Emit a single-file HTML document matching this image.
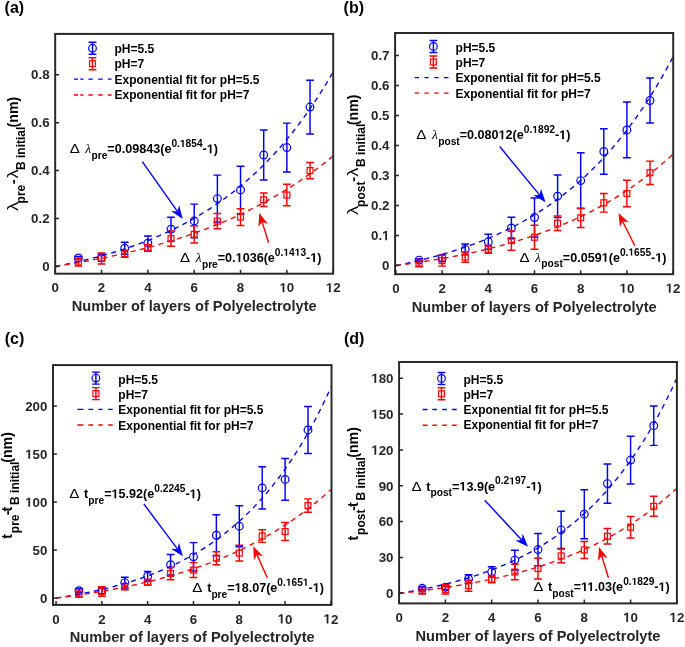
<!DOCTYPE html>
<html><head><meta charset="utf-8"><style>
html,body{margin:0;padding:0;background:#fff;}
svg{display:block;will-change:transform;}
.tk{font-family:'Liberation Sans', sans-serif;font-weight:bold;font-size:13.3px;fill:#262626;}
.xl{font-family:'Liberation Sans', sans-serif;font-weight:bold;font-size:14.6px;fill:#262626;}
.pl{font-family:'Liberation Sans', sans-serif;font-weight:bold;font-size:16px;fill:#000;}
.one{fill-opacity:0;}
.lg{font-family:'Liberation Sans', sans-serif;font-weight:bold;font-size:12px;fill:#000;}
</style></head><body>
<svg width="685" height="647" viewBox="0 0 685 647">
<rect width="685" height="647" fill="#fff"/>
<path d="M78.37 256.58V259.45M74.47 256.58H82.27M74.47 259.45H82.27" stroke="#0000ff" stroke-width="1.45" fill="none"/><circle cx="78.37" cy="258.01" r="3.85" stroke="#0000ff" stroke-width="1.2" fill="none"/>
<path d="M101.53 254.18V261.37M97.63 254.18H105.43M97.63 261.37H105.43" stroke="#0000ff" stroke-width="1.45" fill="none"/><circle cx="101.53" cy="257.77" r="3.85" stroke="#0000ff" stroke-width="1.2" fill="none"/>
<path d="M124.7 242.2V254.18M120.8 242.2H128.6M120.8 254.18H128.6" stroke="#0000ff" stroke-width="1.45" fill="none"/><circle cx="124.7" cy="248.19" r="3.85" stroke="#0000ff" stroke-width="1.2" fill="none"/>
<path d="M147.87 235.97V250.35M143.97 235.97H151.77M143.97 250.35H151.77" stroke="#0000ff" stroke-width="1.45" fill="none"/><circle cx="147.87" cy="243.16" r="3.85" stroke="#0000ff" stroke-width="1.2" fill="none"/>
<path d="M171.03 217.28V241.24M167.13 217.28H174.93M167.13 241.24H174.93" stroke="#0000ff" stroke-width="1.45" fill="none"/><circle cx="171.03" cy="229.26" r="3.85" stroke="#0000ff" stroke-width="1.2" fill="none"/>
<path d="M194.2 204.1V237.65M190.3 204.1H198.1M190.3 237.65H198.1" stroke="#0000ff" stroke-width="1.45" fill="none"/><circle cx="194.2" cy="220.88" r="3.85" stroke="#0000ff" stroke-width="1.2" fill="none"/>
<path d="M217.37 175.11V222.07M213.47 175.11H221.27M213.47 222.07H221.27" stroke="#0000ff" stroke-width="1.45" fill="none"/><circle cx="217.37" cy="198.59" r="3.85" stroke="#0000ff" stroke-width="1.2" fill="none"/>
<path d="M240.53 166.25V213.69M236.63 166.25H244.43M236.63 213.69H244.43" stroke="#0000ff" stroke-width="1.45" fill="none"/><circle cx="240.53" cy="189.97" r="3.85" stroke="#0000ff" stroke-width="1.2" fill="none"/>
<path d="M263.7 130.07V179.9M259.8 130.07H267.6M259.8 179.9H267.6" stroke="#0000ff" stroke-width="1.45" fill="none"/><circle cx="263.7" cy="154.99" r="3.85" stroke="#0000ff" stroke-width="1.2" fill="none"/>
<path d="M286.87 123.12V172M282.97 123.12H290.77M282.97 172H290.77" stroke="#0000ff" stroke-width="1.45" fill="none"/><circle cx="286.87" cy="147.56" r="3.85" stroke="#0000ff" stroke-width="1.2" fill="none"/>
<path d="M310.03 80.23V133.9M306.13 80.23H313.93M306.13 133.9H313.93" stroke="#0000ff" stroke-width="1.45" fill="none"/><circle cx="310.03" cy="107.07" r="3.85" stroke="#0000ff" stroke-width="1.2" fill="none"/>
<path d="M78.37 258.25V265.92M74.47 258.25H82.27M74.47 265.92H82.27" stroke="#ff0000" stroke-width="1.45" fill="none"/><rect x="75.42" y="259.14" width="5.9" height="5.9" stroke="#ff0000" stroke-width="1.2" fill="none"/>
<path d="M101.53 252.98V264M97.63 252.98H105.43M97.63 264H105.43" stroke="#ff0000" stroke-width="1.45" fill="none"/><rect x="98.58" y="255.54" width="5.9" height="5.9" stroke="#ff0000" stroke-width="1.2" fill="none"/>
<path d="M124.7 250.11V257.3M120.8 250.11H128.6M120.8 257.3H128.6" stroke="#ff0000" stroke-width="1.45" fill="none"/><rect x="121.75" y="250.75" width="5.9" height="5.9" stroke="#ff0000" stroke-width="1.2" fill="none"/>
<path d="M147.87 244.6V251.31M143.97 244.6H151.77M143.97 251.31H151.77" stroke="#ff0000" stroke-width="1.45" fill="none"/><rect x="144.92" y="245" width="5.9" height="5.9" stroke="#ff0000" stroke-width="1.2" fill="none"/>
<path d="M171.03 230.94V246.27M167.13 230.94H174.93M167.13 246.27H174.93" stroke="#ff0000" stroke-width="1.45" fill="none"/><rect x="168.08" y="235.66" width="5.9" height="5.9" stroke="#ff0000" stroke-width="1.2" fill="none"/>
<path d="M194.2 225.67V242.92M190.3 225.67H198.1M190.3 242.92H198.1" stroke="#ff0000" stroke-width="1.45" fill="none"/><rect x="191.25" y="231.34" width="5.9" height="5.9" stroke="#ff0000" stroke-width="1.2" fill="none"/>
<path d="M217.37 213.45V228.78M213.47 213.45H221.27M213.47 228.78H221.27" stroke="#ff0000" stroke-width="1.45" fill="none"/><rect x="214.42" y="218.17" width="5.9" height="5.9" stroke="#ff0000" stroke-width="1.2" fill="none"/>
<path d="M240.53 208.66V225.43M236.63 208.66H244.43M236.63 225.43H244.43" stroke="#ff0000" stroke-width="1.45" fill="none"/><rect x="237.58" y="214.09" width="5.9" height="5.9" stroke="#ff0000" stroke-width="1.2" fill="none"/>
<path d="M263.7 193.08V206.5M259.8 193.08H267.6M259.8 206.5H267.6" stroke="#ff0000" stroke-width="1.45" fill="none"/><rect x="260.75" y="196.84" width="5.9" height="5.9" stroke="#ff0000" stroke-width="1.2" fill="none"/>
<path d="M286.87 184.22V205.78M282.97 184.22H290.77M282.97 205.78H290.77" stroke="#ff0000" stroke-width="1.45" fill="none"/><rect x="283.92" y="192.05" width="5.9" height="5.9" stroke="#ff0000" stroke-width="1.2" fill="none"/>
<path d="M310.03 162.41V178.71M306.13 162.41H313.93M306.13 178.71H313.93" stroke="#ff0000" stroke-width="1.45" fill="none"/><rect x="307.08" y="167.61" width="5.9" height="5.9" stroke="#ff0000" stroke-width="1.2" fill="none"/>
<polyline points="55.2,266.4 57.52,265.96 59.83,265.51 62.15,265.05 64.47,264.58 66.78,264.11 69.1,263.63 71.42,263.13 73.73,262.63 76.05,262.12 78.37,261.6 80.68,261.06 83,260.52 85.32,259.97 87.63,259.41 89.95,258.84 92.27,258.26 94.58,257.66 96.9,257.06 99.22,256.44 101.53,255.81 103.85,255.17 106.17,254.52 108.48,253.86 110.8,253.18 113.12,252.49 115.43,251.79 117.75,251.08 120.07,250.35 122.38,249.61 124.7,248.85 127.02,248.08 129.33,247.3 131.65,246.5 133.97,245.69 136.28,244.86 138.6,244.01 140.92,243.15 143.23,242.28 145.55,241.38 147.87,240.47 150.18,239.55 152.5,238.6 154.82,237.64 157.13,236.66 159.45,235.67 161.77,234.65 164.08,233.61 166.4,232.56 168.72,231.48 171.03,230.39 173.35,229.27 175.67,228.14 177.98,226.98 180.3,225.8 182.62,224.6 184.93,223.38 187.25,222.13 189.57,220.86 191.88,219.57 194.2,218.25 196.52,216.91 198.83,215.54 201.15,214.15 203.47,212.73 205.78,211.28 208.1,209.81 210.42,208.31 212.73,206.78 215.05,205.22 217.37,203.64 219.68,202.02 222,200.38 224.32,198.7 226.63,196.99 228.95,195.25 231.27,193.48 233.58,191.67 235.9,189.83 238.22,187.96 240.53,186.05 242.85,184.1 245.17,182.12 247.48,180.1 249.8,178.05 252.12,175.95 254.43,173.82 256.75,171.65 259.07,169.43 261.38,167.18 263.7,164.88 266.02,162.54 268.33,160.15 270.65,157.72 272.97,155.25 275.28,152.73 277.6,150.16 279.92,147.54 282.23,144.88 284.55,142.16 286.87,139.39 289.18,136.58 291.5,133.71 293.82,130.78 296.13,127.8 298.45,124.77 300.77,121.67 303.08,118.53 305.4,115.32 307.72,112.05 310.03,108.72 312.35,105.33 314.67,101.87 316.98,98.35 319.3,94.76 321.62,91.11 323.93,87.39 326.25,83.6 328.57,79.74 330.88,75.8 333.2,71.79" fill="none" stroke="#0000ff" stroke-width="1.35" stroke-dasharray="5.2 4.4"/>
<polyline points="55.2,266.4 57.52,266.05 59.83,265.69 62.15,265.33 64.47,264.96 66.78,264.58 69.1,264.2 71.42,263.82 73.73,263.43 76.05,263.03 78.37,262.63 80.68,262.23 83,261.81 85.32,261.39 87.63,260.97 89.95,260.54 92.27,260.1 94.58,259.66 96.9,259.21 99.22,258.76 101.53,258.29 103.85,257.82 106.17,257.35 108.48,256.87 110.8,256.38 113.12,255.88 115.43,255.38 117.75,254.87 120.07,254.35 122.38,253.83 124.7,253.3 127.02,252.76 129.33,252.21 131.65,251.65 133.97,251.09 136.28,250.52 138.6,249.94 140.92,249.35 143.23,248.76 145.55,248.15 147.87,247.54 150.18,246.92 152.5,246.29 154.82,245.65 157.13,245 159.45,244.34 161.77,243.67 164.08,243 166.4,242.31 168.72,241.62 171.03,240.91 173.35,240.19 175.67,239.47 177.98,238.73 180.3,237.98 182.62,237.23 184.93,236.46 187.25,235.68 189.57,234.89 191.88,234.09 194.2,233.27 196.52,232.45 198.83,231.61 201.15,230.76 203.47,229.9 205.78,229.03 208.1,228.15 210.42,227.25 212.73,226.34 215.05,225.42 217.37,224.48 219.68,223.53 222,222.57 224.32,221.59 226.63,220.6 228.95,219.59 231.27,218.57 233.58,217.54 235.9,216.49 238.22,215.43 240.53,214.35 242.85,213.26 245.17,212.15 247.48,211.02 249.8,209.88 252.12,208.72 254.43,207.55 256.75,206.36 259.07,205.15 261.38,203.92 263.7,202.68 266.02,201.42 268.33,200.14 270.65,198.85 272.97,197.53 275.28,196.2 277.6,194.85 279.92,193.48 282.23,192.09 284.55,190.68 286.87,189.24 289.18,187.79 291.5,186.32 293.82,184.83 296.13,183.32 298.45,181.78 300.77,180.22 303.08,178.64 305.4,177.04 307.72,175.42 310.03,173.77 312.35,172.1 314.67,170.4 316.98,168.68 319.3,166.94 321.62,165.17 323.93,163.38 326.25,161.56 328.57,159.71 330.88,157.84 333.2,155.94" fill="none" stroke="#ff0000" stroke-width="1.35" stroke-dasharray="5.2 4.4"/>
<rect x="55.2" y="33.9" width="278" height="239.8" fill="none" stroke="#262626" stroke-width="1.95"/>
<path d="M55.2 273.7V269.8M101.53 273.7V269.8M147.87 273.7V269.8M194.2 273.7V269.8M240.53 273.7V269.8M286.87 273.7V269.8M333.2 273.7V269.8M55.2 266.4H59.1M55.2 218.48H59.1M55.2 170.56H59.1M55.2 122.64H59.1M55.2 74.72H59.1" stroke="#262626" stroke-width="1.5" fill="none"/>
<text x="55.2" y="292.3" text-anchor="middle" class="tk">0</text>
<text x="101.53" y="292.3" text-anchor="middle" class="tk">2</text>
<text x="147.87" y="292.3" text-anchor="middle" class="tk">4</text>
<text x="194.2" y="292.3" text-anchor="middle" class="tk">6</text>
<text x="240.53" y="292.3" text-anchor="middle" class="tk">8</text>
<text x="286.87" y="292.3" text-anchor="middle" class="tk"><tspan class="one">1</tspan>0</text>
<text x="333.2" y="292.3" text-anchor="middle" class="tk"><tspan class="one">1</tspan>2</text>
<text x="49.6" y="271.15" text-anchor="end" class="tk">0</text>
<text x="49.6" y="223.23" text-anchor="end" class="tk">0.2</text>
<text x="49.6" y="175.31" text-anchor="end" class="tk">0.4</text>
<text x="49.6" y="127.39" text-anchor="end" class="tk">0.6</text>
<text x="49.6" y="79.47" text-anchor="end" class="tk">0.8</text>
<text x="194.2" y="311" text-anchor="middle" class="xl">Number of layers of Polyelectrolyte</text>
<g transform="translate(18.4,210.9) rotate(-90)" font-family="'Liberation Sans', sans-serif" font-weight="bold" fill="#000"><text transform="translate(0,0) scale(1.22,1)" font-size="15" font-weight="normal">λ</text><text transform="translate(32.5,0) scale(1.22,1)" font-size="15" font-weight="normal">λ</text><text x="7.5" y="6.5" font-size="12">pre</text><text x="26.7" y="0" font-size="14.2">-</text><text x="40.9" y="6.5" font-size="12">B initial</text><text x="83.5" y="0" font-size="14.2">(nm)</text></g>
<text x="4.6" y="12.8" class="pl">(a)</text>
<path d="M92.5 42.3V54.3M88.6 42.3H96.4M88.6 54.3H96.4" stroke="#0000ff" stroke-width="1.45" fill="none"/><circle cx="92.5" cy="48.3" r="3.85" stroke="#0000ff" stroke-width="1.2" fill="none"/>
<path d="M92.5 57.7V69.7M88.6 57.7H96.4M88.6 69.7H96.4" stroke="#ff0000" stroke-width="1.45" fill="none"/><rect x="89.55" y="60.75" width="5.9" height="5.9" stroke="#ff0000" stroke-width="1.2" fill="none"/>
<path d="M73.9 79.1H78.2M80.3 79.1H83.5M88.4 79.1H92.8M98.2 79.1H102.7M107.9 79.1H111.6" stroke="#0000ff" stroke-width="1.35" fill="none"/>
<path d="M73.9 95H78.2M80.3 95H83.5M88.4 95H92.8M98.2 95H102.7M107.9 95H111.6" stroke="#ff0000" stroke-width="1.35" fill="none"/>
<text x="114.5" y="52.6" class="lg">pH=5.5</text>
<text x="114.5" y="68.1" class="lg">pH=7</text>
<text x="114.5" y="84" class="lg">Exponential fit for pH=5.5</text>
<text x="114.5" y="99.4" class="lg">Exponential fit for pH=7</text>
<text transform="translate(69.65,153.2) scale(1.2,1)" font-family="'Liberation Sans', sans-serif" font-size="12.6" fill="#000">Δ</text><text x="85.25" y="153.2" font-family="'Liberation Sans', sans-serif" font-size="12.6" font-weight="bold" fill="#000"><tspan font-family="'Liberation Serif', serif" font-style="italic" font-weight="normal" font-size="13.5">λ</tspan><tspan dx="0.4" dy="5.6" font-size="10.2">pre</tspan><tspan dy="-5.6">=0.09843(e</tspan><tspan dy="-6.2" font-size="10.2">0.<tspan class="one">1</tspan>854</tspan><tspan dy="6.2">-<tspan class="one">1</tspan>)</tspan></text>
<text transform="translate(180.05,261.9) scale(1.2,1)" font-family="'Liberation Sans', sans-serif" font-size="12.6" fill="#000">Δ</text><text x="195.65" y="261.9" font-family="'Liberation Sans', sans-serif" font-size="12.6" font-weight="bold" fill="#000"><tspan font-family="'Liberation Serif', serif" font-style="italic" font-weight="normal" font-size="13.5">λ</tspan><tspan dx="0.4" dy="5.6" font-size="10.2">pre</tspan><tspan dy="-5.6">=0.<tspan class="one">1</tspan>036(e</tspan><tspan dy="-6.2" font-size="10.2">0.<tspan class="one">1</tspan>4<tspan class="one">1</tspan>3</tspan><tspan dy="6.2">-<tspan class="one">1</tspan>)</tspan></text>
<line x1="142.3" y1="161.6" x2="177.4" y2="211.38" stroke="#0000ff" stroke-width="1.4"/><polygon points="182.7,218.9 171.01,210.99 177.4,211.38 179.18,205.23" fill="#0000ff"/>
<line x1="268.6" y1="242.8" x2="262.04" y2="221.78" stroke="#ff0000" stroke-width="1.4"/><polygon points="259.3,213 268.01,224.11 262.04,221.78 258.46,227.09" fill="#ff0000"/>
<path d="M419 258.6V261.6M415.1 258.6H422.9M415.1 261.6H422.9" stroke="#0000ff" stroke-width="1.45" fill="none"/><circle cx="419" cy="260.1" r="3.85" stroke="#0000ff" stroke-width="1.2" fill="none"/>
<path d="M442.1 255.3V261.3M438.2 255.3H446M438.2 261.3H446" stroke="#0000ff" stroke-width="1.45" fill="none"/><circle cx="442.1" cy="258.3" r="3.85" stroke="#0000ff" stroke-width="1.2" fill="none"/>
<path d="M465.2 243.9V254.7M461.3 243.9H469.1M461.3 254.7H469.1" stroke="#0000ff" stroke-width="1.45" fill="none"/><circle cx="465.2" cy="249.3" r="3.85" stroke="#0000ff" stroke-width="1.2" fill="none"/>
<path d="M488.3 234.3V249.3M484.4 234.3H492.2M484.4 249.3H492.2" stroke="#0000ff" stroke-width="1.45" fill="none"/><circle cx="488.3" cy="241.8" r="3.85" stroke="#0000ff" stroke-width="1.2" fill="none"/>
<path d="M511.4 217.2V238.8M507.5 217.2H515.3M507.5 238.8H515.3" stroke="#0000ff" stroke-width="1.45" fill="none"/><circle cx="511.4" cy="228" r="3.85" stroke="#0000ff" stroke-width="1.2" fill="none"/>
<path d="M534.5 198V237M530.6 198H538.4M530.6 237H538.4" stroke="#0000ff" stroke-width="1.45" fill="none"/><circle cx="534.5" cy="217.5" r="3.85" stroke="#0000ff" stroke-width="1.2" fill="none"/>
<path d="M557.6 174.9V217.5M553.7 174.9H561.5M553.7 217.5H561.5" stroke="#0000ff" stroke-width="1.45" fill="none"/><circle cx="557.6" cy="196.2" r="3.85" stroke="#0000ff" stroke-width="1.2" fill="none"/>
<path d="M580.7 152.7V208.5M576.8 152.7H584.6M576.8 208.5H584.6" stroke="#0000ff" stroke-width="1.45" fill="none"/><circle cx="580.7" cy="180.6" r="3.85" stroke="#0000ff" stroke-width="1.2" fill="none"/>
<path d="M603.8 128.7V174.3M599.9 128.7H607.7M599.9 174.3H607.7" stroke="#0000ff" stroke-width="1.45" fill="none"/><circle cx="603.8" cy="151.5" r="3.85" stroke="#0000ff" stroke-width="1.2" fill="none"/>
<path d="M626.9 102V157.8M623 102H630.8M623 157.8H630.8" stroke="#0000ff" stroke-width="1.45" fill="none"/><circle cx="626.9" cy="129.9" r="3.85" stroke="#0000ff" stroke-width="1.2" fill="none"/>
<path d="M650 78V123M646.1 78H653.9M646.1 123H653.9" stroke="#0000ff" stroke-width="1.45" fill="none"/><circle cx="650" cy="100.5" r="3.85" stroke="#0000ff" stroke-width="1.2" fill="none"/>
<path d="M419 259.5V266.7M415.1 259.5H422.9M415.1 266.7H422.9" stroke="#ff0000" stroke-width="1.45" fill="none"/><rect x="416.05" y="260.15" width="5.9" height="5.9" stroke="#ff0000" stroke-width="1.2" fill="none"/>
<path d="M442.1 255.3V266.1M438.2 255.3H446M438.2 266.1H446" stroke="#ff0000" stroke-width="1.45" fill="none"/><rect x="439.15" y="257.75" width="5.9" height="5.9" stroke="#ff0000" stroke-width="1.2" fill="none"/>
<path d="M465.2 252V262.2M461.3 252H469.1M461.3 262.2H469.1" stroke="#ff0000" stroke-width="1.45" fill="none"/><rect x="462.25" y="254.15" width="5.9" height="5.9" stroke="#ff0000" stroke-width="1.2" fill="none"/>
<path d="M488.3 245.4V253.2M484.4 245.4H492.2M484.4 253.2H492.2" stroke="#ff0000" stroke-width="1.45" fill="none"/><rect x="485.35" y="246.35" width="5.9" height="5.9" stroke="#ff0000" stroke-width="1.2" fill="none"/>
<path d="M511.4 231V250.2M507.5 231H515.3M507.5 250.2H515.3" stroke="#ff0000" stroke-width="1.45" fill="none"/><rect x="508.45" y="237.65" width="5.9" height="5.9" stroke="#ff0000" stroke-width="1.2" fill="none"/>
<path d="M534.5 225.3V249.3M530.6 225.3H538.4M530.6 249.3H538.4" stroke="#ff0000" stroke-width="1.45" fill="none"/><rect x="531.55" y="234.35" width="5.9" height="5.9" stroke="#ff0000" stroke-width="1.2" fill="none"/>
<path d="M557.6 216V230.4M553.7 216H561.5M553.7 230.4H561.5" stroke="#ff0000" stroke-width="1.45" fill="none"/><rect x="554.65" y="220.25" width="5.9" height="5.9" stroke="#ff0000" stroke-width="1.2" fill="none"/>
<path d="M580.7 208.2V227.4M576.8 208.2H584.6M576.8 227.4H584.6" stroke="#ff0000" stroke-width="1.45" fill="none"/><rect x="577.75" y="214.85" width="5.9" height="5.9" stroke="#ff0000" stroke-width="1.2" fill="none"/>
<path d="M603.8 193.5V212.1M599.9 193.5H607.7M599.9 212.1H607.7" stroke="#ff0000" stroke-width="1.45" fill="none"/><rect x="600.85" y="199.85" width="5.9" height="5.9" stroke="#ff0000" stroke-width="1.2" fill="none"/>
<path d="M626.9 180.3V206.7M623 180.3H630.8M623 206.7H630.8" stroke="#ff0000" stroke-width="1.45" fill="none"/><rect x="623.95" y="190.55" width="5.9" height="5.9" stroke="#ff0000" stroke-width="1.2" fill="none"/>
<path d="M650 161.1V184.5M646.1 161.1H653.9M646.1 184.5H653.9" stroke="#ff0000" stroke-width="1.45" fill="none"/><rect x="647.05" y="169.85" width="5.9" height="5.9" stroke="#ff0000" stroke-width="1.2" fill="none"/>
<polyline points="395.9,265.5 398.21,265.04 400.52,264.57 402.83,264.1 405.14,263.61 407.45,263.12 409.76,262.61 412.07,262.1 414.38,261.57 416.69,261.04 419,260.49 421.31,259.94 423.62,259.37 425.93,258.8 428.24,258.21 430.55,257.61 432.86,257 435.17,256.38 437.48,255.75 439.79,255.1 442.1,254.44 444.41,253.77 446.72,253.09 449.03,252.4 451.34,251.69 453.65,250.96 455.96,250.23 458.27,249.48 460.58,248.71 462.89,247.93 465.2,247.14 467.51,246.33 469.82,245.5 472.13,244.66 474.44,243.8 476.75,242.93 479.06,242.04 481.37,241.13 483.68,240.21 485.99,239.26 488.3,238.3 490.61,237.33 492.92,236.33 495.23,235.31 497.54,234.28 499.85,233.22 502.16,232.15 504.47,231.05 506.78,229.93 509.09,228.79 511.4,227.63 513.71,226.45 516.02,225.25 518.33,224.02 520.64,222.77 522.95,221.49 525.26,220.19 527.57,218.87 529.88,217.52 532.19,216.14 534.5,214.74 536.81,213.31 539.12,211.86 541.43,210.37 543.74,208.86 546.05,207.32 548.36,205.75 550.67,204.15 552.98,202.52 555.29,200.86 557.6,199.16 559.91,197.44 562.22,195.68 564.53,193.88 566.84,192.06 569.15,190.2 571.46,188.3 573.77,186.36 576.08,184.39 578.39,182.39 580.7,180.34 583.01,178.25 585.32,176.13 587.63,173.96 589.94,171.75 592.25,169.5 594.56,167.21 596.87,164.88 599.18,162.49 601.49,160.07 603.8,157.6 606.11,155.08 608.42,152.51 610.73,149.89 613.04,147.22 615.35,144.5 617.66,141.73 619.97,138.91 622.28,136.03 624.59,133.1 626.9,130.11 629.21,127.07 631.52,123.97 633.83,120.8 636.14,117.58 638.45,114.3 640.76,110.95 643.07,107.54 645.38,104.06 647.69,100.52 650,96.91 652.31,93.23 654.62,89.48 656.93,85.66 659.24,81.77 661.55,77.8 663.86,73.75 666.17,69.63 668.48,65.43 670.79,61.15 673.1,56.79" fill="none" stroke="#0000ff" stroke-width="1.35" stroke-dasharray="5.2 4.4"/>
<polyline points="395.9,265.5 398.21,265.2 400.52,264.9 402.83,264.6 405.14,264.29 407.45,263.97 409.76,263.65 412.07,263.32 414.38,262.99 416.69,262.65 419,262.31 421.31,261.96 423.62,261.6 425.93,261.24 428.24,260.88 430.55,260.5 432.86,260.12 435.17,259.74 437.48,259.35 439.79,258.95 442.1,258.54 444.41,258.13 446.72,257.71 449.03,257.29 451.34,256.85 453.65,256.41 455.96,255.97 458.27,255.51 460.58,255.05 462.89,254.58 465.2,254.1 467.51,253.61 469.82,253.12 472.13,252.62 474.44,252.11 476.75,251.59 479.06,251.06 481.37,250.52 483.68,249.98 485.99,249.42 488.3,248.86 490.61,248.28 492.92,247.7 495.23,247.11 497.54,246.5 499.85,245.89 502.16,245.27 504.47,244.64 506.78,243.99 509.09,243.34 511.4,242.67 513.71,241.99 516.02,241.31 518.33,240.61 520.64,239.9 522.95,239.17 525.26,238.44 527.57,237.69 529.88,236.93 532.19,236.16 534.5,235.37 536.81,234.57 539.12,233.76 541.43,232.93 543.74,232.1 546.05,231.24 548.36,230.37 550.67,229.49 552.98,228.6 555.29,227.68 557.6,226.76 559.91,225.81 562.22,224.86 564.53,223.88 566.84,222.89 569.15,221.89 571.46,220.86 573.77,219.82 576.08,218.76 578.39,217.69 580.7,216.59 583.01,215.48 585.32,214.35 587.63,213.2 589.94,212.03 592.25,210.84 594.56,209.64 596.87,208.41 599.18,207.16 601.49,205.89 603.8,204.6 606.11,203.29 608.42,201.95 610.73,200.6 613.04,199.22 615.35,197.82 617.66,196.39 619.97,194.94 622.28,193.47 624.59,191.97 626.9,190.45 629.21,188.9 631.52,187.32 633.83,185.72 636.14,184.1 638.45,182.44 640.76,180.76 643.07,179.05 645.38,177.31 647.69,175.55 650,173.75 652.31,171.92 654.62,170.06 656.93,168.18 659.24,166.26 661.55,164.3 663.86,162.32 666.17,160.3 668.48,158.25 670.79,156.16 673.1,154.04" fill="none" stroke="#ff0000" stroke-width="1.35" stroke-dasharray="5.2 4.4"/>
<rect x="395.1" y="33" width="278.1" height="241.2" fill="none" stroke="#262626" stroke-width="1.95"/>
<path d="M395.9 274.2V270.3M442.1 274.2V270.3M488.3 274.2V270.3M534.5 274.2V270.3M580.7 274.2V270.3M626.9 274.2V270.3M673.1 274.2V270.3M395.1 265.5H399M395.1 235.5H399M395.1 205.5H399M395.1 175.5H399M395.1 145.5H399M395.1 115.5H399M395.1 85.5H399M395.1 55.5H399" stroke="#262626" stroke-width="1.5" fill="none"/>
<text x="395.9" y="292.8" text-anchor="middle" class="tk">0</text>
<text x="442.1" y="292.8" text-anchor="middle" class="tk">2</text>
<text x="488.3" y="292.8" text-anchor="middle" class="tk">4</text>
<text x="534.5" y="292.8" text-anchor="middle" class="tk">6</text>
<text x="580.7" y="292.8" text-anchor="middle" class="tk">8</text>
<text x="626.9" y="292.8" text-anchor="middle" class="tk"><tspan class="one">1</tspan>0</text>
<text x="673.1" y="292.8" text-anchor="middle" class="tk"><tspan class="one">1</tspan>2</text>
<text x="389.5" y="270.25" text-anchor="end" class="tk">0</text>
<text x="389.5" y="240.25" text-anchor="end" class="tk">0.<tspan class="one">1</tspan></text>
<text x="389.5" y="210.25" text-anchor="end" class="tk">0.2</text>
<text x="389.5" y="180.25" text-anchor="end" class="tk">0.3</text>
<text x="389.5" y="150.25" text-anchor="end" class="tk">0.4</text>
<text x="389.5" y="120.25" text-anchor="end" class="tk">0.5</text>
<text x="389.5" y="90.25" text-anchor="end" class="tk">0.6</text>
<text x="389.5" y="60.25" text-anchor="end" class="tk">0.7</text>
<text x="534.15" y="311.5" text-anchor="middle" class="xl">Number of layers of Polyelectrolyte</text>
<g transform="translate(358,214.9) rotate(-90)" font-family="'Liberation Sans', sans-serif" font-weight="bold" fill="#000"><text transform="translate(0,0) scale(1.22,1)" font-size="15" font-weight="normal">λ</text><text transform="translate(38.2,0) scale(1.22,1)" font-size="15" font-weight="normal">λ</text><text x="8" y="6.8" font-size="12">post</text><text x="33.2" y="0" font-size="14.2">-</text><text x="47.8" y="6.8" font-size="12">B initial</text><text x="89.7" y="0" font-size="14.2">(nm)</text></g>
<text x="343.6" y="12.8" class="pl">(b)</text>
<path d="M433.4 40.4V52.4M429.5 40.4H437.3M429.5 52.4H437.3" stroke="#0000ff" stroke-width="1.45" fill="none"/><circle cx="433.4" cy="46.4" r="3.85" stroke="#0000ff" stroke-width="1.2" fill="none"/>
<path d="M433.4 56V68M429.5 56H437.3M429.5 68H437.3" stroke="#ff0000" stroke-width="1.45" fill="none"/><rect x="430.45" y="59.05" width="5.9" height="5.9" stroke="#ff0000" stroke-width="1.2" fill="none"/>
<path d="M414.6 77.6H419M424.4 77.6H428.8M434.3 77.6H438.6M443.8 77.6H448.5" stroke="#0000ff" stroke-width="1.35" fill="none"/>
<path d="M414.6 93.1H419M424.4 93.1H428.8M434.3 93.1H438.6M443.8 93.1H448.5" stroke="#ff0000" stroke-width="1.35" fill="none"/>
<text x="455.6" y="51.7" class="lg">pH=5.5</text>
<text x="455.6" y="67.1" class="lg">pH=7</text>
<text x="455.6" y="82.3" class="lg">Exponential fit for pH=5.5</text>
<text x="455.6" y="97.6" class="lg">Exponential fit for pH=7</text>
<text transform="translate(416.35,139.2) scale(1.2,1)" font-family="'Liberation Sans', sans-serif" font-size="12.6" fill="#000">Δ</text><text x="431.95" y="139.2" font-family="'Liberation Sans', sans-serif" font-size="12.6" font-weight="bold" fill="#000"><tspan font-family="'Liberation Serif', serif" font-style="italic" font-weight="normal" font-size="13.5">λ</tspan><tspan dx="0.4" dy="5.6" font-size="10.2">post</tspan><tspan dy="-5.6">=0.080<tspan class="one">1</tspan>2(e</tspan><tspan dy="-6.2" font-size="10.2">0.<tspan class="one">1</tspan>892</tspan><tspan dy="6.2">-<tspan class="one">1</tspan>)</tspan></text>
<text transform="translate(519.45,261.8) scale(1.2,1)" font-family="'Liberation Sans', sans-serif" font-size="12.6" fill="#000">Δ</text><text x="535.05" y="261.8" font-family="'Liberation Sans', sans-serif" font-size="12.6" font-weight="bold" fill="#000"><tspan font-family="'Liberation Serif', serif" font-style="italic" font-weight="normal" font-size="13.5">λ</tspan><tspan dx="0.4" dy="5.6" font-size="10.2">post</tspan><tspan dy="-5.6">=0.059<tspan class="one">1</tspan>(e</tspan><tspan dy="-6.2" font-size="10.2">0.<tspan class="one">1</tspan>655</tspan><tspan dy="6.2">-<tspan class="one">1</tspan>)</tspan></text>
<line x1="499.7" y1="146.5" x2="539.66" y2="195.09" stroke="#0000ff" stroke-width="1.4"/><polygon points="545.5,202.2 533.25,195.18 539.66,195.09 540.98,188.83" fill="#0000ff"/>
<line x1="634.8" y1="245.8" x2="622.59" y2="221.24" stroke="#ff0000" stroke-width="1.4"/><polygon points="618.5,213 628.85,222.6 622.59,221.24 619.9,227.05" fill="#ff0000"/>
<path d="M78.95 588.82V592.66M75.05 588.82H82.86M75.05 592.66H82.86" stroke="#0000ff" stroke-width="1.45" fill="none"/><circle cx="78.95" cy="590.74" r="3.85" stroke="#0000ff" stroke-width="1.2" fill="none"/>
<path d="M101.86 587.86V593.62M97.96 587.86H105.76M97.96 593.62H105.76" stroke="#0000ff" stroke-width="1.45" fill="none"/><circle cx="101.86" cy="590.74" r="3.85" stroke="#0000ff" stroke-width="1.2" fill="none"/>
<path d="M124.77 577.2V587.95M120.86 577.2H128.66M120.86 587.95H128.66" stroke="#0000ff" stroke-width="1.45" fill="none"/><circle cx="124.77" cy="582.58" r="3.85" stroke="#0000ff" stroke-width="1.2" fill="none"/>
<path d="M147.67 571.44V581.04M143.77 571.44H151.57M143.77 581.04H151.57" stroke="#0000ff" stroke-width="1.45" fill="none"/><circle cx="147.67" cy="576.24" r="3.85" stroke="#0000ff" stroke-width="1.2" fill="none"/>
<path d="M170.57 554.54V574.9M166.67 554.54H174.47M166.67 574.9H174.47" stroke="#0000ff" stroke-width="1.45" fill="none"/><circle cx="170.57" cy="564.72" r="3.85" stroke="#0000ff" stroke-width="1.2" fill="none"/>
<path d="M193.48 542.64V571.06M189.58 542.64H197.38M189.58 571.06H197.38" stroke="#0000ff" stroke-width="1.45" fill="none"/><circle cx="193.48" cy="556.85" r="3.85" stroke="#0000ff" stroke-width="1.2" fill="none"/>
<path d="M216.38 514.8V555.7M212.48 514.8H220.28M212.48 555.7H220.28" stroke="#0000ff" stroke-width="1.45" fill="none"/><circle cx="216.38" cy="535.25" r="3.85" stroke="#0000ff" stroke-width="1.2" fill="none"/>
<path d="M239.29 505.78V546.67M235.39 505.78H243.19M235.39 546.67H243.19" stroke="#0000ff" stroke-width="1.45" fill="none"/><circle cx="239.29" cy="526.22" r="3.85" stroke="#0000ff" stroke-width="1.2" fill="none"/>
<path d="M262.19 466.8V509.04M258.3 466.8H266.09M258.3 509.04H266.09" stroke="#0000ff" stroke-width="1.45" fill="none"/><circle cx="262.19" cy="487.92" r="3.85" stroke="#0000ff" stroke-width="1.2" fill="none"/>
<path d="M285.1 458.54V500.21M281.2 458.54H289M281.2 500.21H289" stroke="#0000ff" stroke-width="1.45" fill="none"/><circle cx="285.1" cy="479.38" r="3.85" stroke="#0000ff" stroke-width="1.2" fill="none"/>
<path d="M308 406.42V453.46M304.11 406.42H311.9M304.11 453.46H311.9" stroke="#0000ff" stroke-width="1.45" fill="none"/><circle cx="308" cy="429.94" r="3.85" stroke="#0000ff" stroke-width="1.2" fill="none"/>
<path d="M78.95 591.31V597.07M75.05 591.31H82.86M75.05 597.07H82.86" stroke="#ff0000" stroke-width="1.45" fill="none"/><rect x="76" y="591.24" width="5.9" height="5.9" stroke="#ff0000" stroke-width="1.2" fill="none"/>
<path d="M101.86 586.7V596.3M97.96 586.7H105.76M97.96 596.3H105.76" stroke="#ff0000" stroke-width="1.45" fill="none"/><rect x="98.91" y="588.55" width="5.9" height="5.9" stroke="#ff0000" stroke-width="1.2" fill="none"/>
<path d="M124.77 583.44V589.78M120.86 583.44H128.66M120.86 589.78H128.66" stroke="#ff0000" stroke-width="1.45" fill="none"/><rect x="121.81" y="583.66" width="5.9" height="5.9" stroke="#ff0000" stroke-width="1.2" fill="none"/>
<path d="M147.67 579.5V585.07M143.77 579.5H151.57M143.77 585.07H151.57" stroke="#ff0000" stroke-width="1.45" fill="none"/><rect x="144.72" y="579.34" width="5.9" height="5.9" stroke="#ff0000" stroke-width="1.2" fill="none"/>
<path d="M170.57 567.12V579.79M166.67 567.12H174.47M166.67 579.79H174.47" stroke="#ff0000" stroke-width="1.45" fill="none"/><rect x="167.62" y="570.51" width="5.9" height="5.9" stroke="#ff0000" stroke-width="1.2" fill="none"/>
<path d="M193.48 562.61V577.58M189.58 562.61H197.38M189.58 577.58H197.38" stroke="#ff0000" stroke-width="1.45" fill="none"/><rect x="190.53" y="567.15" width="5.9" height="5.9" stroke="#ff0000" stroke-width="1.2" fill="none"/>
<path d="M216.38 551.66V564.72M212.48 551.66H220.28M212.48 564.72H220.28" stroke="#ff0000" stroke-width="1.45" fill="none"/><rect x="213.44" y="555.24" width="5.9" height="5.9" stroke="#ff0000" stroke-width="1.2" fill="none"/>
<path d="M239.29 545.23V560.98M235.39 545.23H243.19M235.39 560.98H243.19" stroke="#ff0000" stroke-width="1.45" fill="none"/><rect x="236.34" y="550.15" width="5.9" height="5.9" stroke="#ff0000" stroke-width="1.2" fill="none"/>
<path d="M262.19 529.68V542.35M258.3 529.68H266.09M258.3 542.35H266.09" stroke="#ff0000" stroke-width="1.45" fill="none"/><rect x="259.25" y="533.07" width="5.9" height="5.9" stroke="#ff0000" stroke-width="1.2" fill="none"/>
<path d="M285.1 522.58V540.43M281.2 522.58H289M281.2 540.43H289" stroke="#ff0000" stroke-width="1.45" fill="none"/><rect x="282.15" y="528.55" width="5.9" height="5.9" stroke="#ff0000" stroke-width="1.2" fill="none"/>
<path d="M308 498.86V512.3M304.11 498.86H311.9M304.11 512.3H311.9" stroke="#ff0000" stroke-width="1.45" fill="none"/><rect x="305.06" y="502.63" width="5.9" height="5.9" stroke="#ff0000" stroke-width="1.2" fill="none"/>
<polyline points="56.05,598.1 58.34,597.75 60.63,597.4 62.92,597.04 65.21,596.66 67.5,596.28 69.79,595.9 72.08,595.5 74.37,595.09 76.66,594.68 78.95,594.25 81.25,593.82 83.54,593.37 85.83,592.92 88.12,592.46 90.41,591.98 92.7,591.49 94.99,591 97.28,590.49 99.57,589.97 101.86,589.44 104.15,588.89 106.44,588.34 108.73,587.77 111.02,587.19 113.31,586.59 115.6,585.99 117.89,585.36 120.18,584.73 122.47,584.08 124.77,583.41 127.06,582.73 129.35,582.04 131.64,581.32 133.93,580.6 136.22,579.85 138.51,579.09 140.8,578.31 143.09,577.51 145.38,576.7 147.67,575.87 149.96,575.02 152.25,574.14 154.54,573.25 156.83,572.34 159.12,571.41 161.41,570.46 163.7,569.48 165.99,568.49 168.28,567.47 170.57,566.43 172.87,565.36 175.16,564.27 177.45,563.15 179.74,562.01 182.03,560.85 184.32,559.65 186.61,558.43 188.9,557.19 191.19,555.91 193.48,554.61 195.77,553.27 198.06,551.91 200.35,550.51 202.64,549.08 204.93,547.62 207.22,546.13 209.51,544.6 211.8,543.04 214.09,541.45 216.38,539.81 218.68,538.14 220.97,536.43 223.26,534.69 225.55,532.9 227.84,531.07 230.13,529.2 232.42,527.29 234.71,525.34 237,523.34 239.29,521.29 241.58,519.2 243.87,517.07 246.16,514.88 248.45,512.64 250.74,510.35 253.03,508.02 255.32,505.62 257.61,503.18 259.9,500.67 262.19,498.12 264.49,495.5 266.78,492.82 269.07,490.09 271.36,487.29 273.65,484.42 275.94,481.5 278.23,478.5 280.52,475.44 282.81,472.31 285.1,469.1 287.39,465.83 289.68,462.48 291.97,459.05 294.26,455.55 296.55,451.96 298.84,448.3 301.13,444.55 303.42,440.72 305.71,436.8 308,432.79 310.3,428.69 312.59,424.5 314.88,420.21 317.17,415.82 319.46,411.34 321.75,406.75 324.04,402.06 326.33,397.26 328.62,392.35 330.91,387.33" fill="none" stroke="#0000ff" stroke-width="1.35" stroke-dasharray="5.2 4.4"/>
<polyline points="56.05,598.1 58.34,597.81 60.63,597.52 62.92,597.22 65.21,596.92 67.5,596.61 69.79,596.29 72.08,595.97 74.37,595.65 76.66,595.32 78.95,594.99 81.25,594.65 83.54,594.3 85.83,593.95 88.12,593.59 90.41,593.23 92.7,592.86 94.99,592.48 97.28,592.1 99.57,591.71 101.86,591.31 104.15,590.91 106.44,590.5 108.73,590.09 111.02,589.67 113.31,589.24 115.6,588.8 117.89,588.36 120.18,587.91 122.47,587.45 124.77,586.98 127.06,586.51 129.35,586.02 131.64,585.54 133.93,585.04 136.22,584.53 138.51,584.02 140.8,583.49 143.09,582.96 145.38,582.42 147.67,581.87 149.96,581.31 152.25,580.74 154.54,580.17 156.83,579.58 159.12,578.98 161.41,578.37 163.7,577.76 165.99,577.13 168.28,576.49 170.57,575.84 172.87,575.18 175.16,574.51 177.45,573.83 179.74,573.14 182.03,572.44 184.32,571.72 186.61,570.99 188.9,570.25 191.19,569.5 193.48,568.73 195.77,567.96 198.06,567.17 200.35,566.36 202.64,565.54 204.93,564.71 207.22,563.87 209.51,563.01 211.8,562.14 214.09,561.25 216.38,560.35 218.68,559.43 220.97,558.5 223.26,557.55 225.55,556.59 227.84,555.61 230.13,554.61 232.42,553.6 234.71,552.57 237,551.52 239.29,550.46 241.58,549.38 243.87,548.28 246.16,547.16 248.45,546.02 250.74,544.86 253.03,543.69 255.32,542.5 257.61,541.28 259.9,540.05 262.19,538.79 264.49,537.51 266.78,536.22 269.07,534.9 271.36,533.56 273.65,532.19 275.94,530.81 278.23,529.4 280.52,527.97 282.81,526.51 285.1,525.03 287.39,523.53 289.68,521.99 291.97,520.44 294.26,518.86 296.55,517.25 298.84,515.61 301.13,513.95 303.42,512.26 305.71,510.55 308,508.8 310.3,507.02 312.59,505.22 314.88,503.38 317.17,501.52 319.46,499.62 321.75,497.69 324.04,495.73 326.33,493.74 328.62,491.71 330.91,489.66" fill="none" stroke="#ff0000" stroke-width="1.35" stroke-dasharray="5.2 4.4"/>
<rect x="53" y="365.1" width="278.5" height="239.8" fill="none" stroke="#262626" stroke-width="1.95"/>
<path d="M56.05 604.9V601M101.86 604.9V601M147.67 604.9V601M193.48 604.9V601M239.29 604.9V601M285.1 604.9V601M330.91 604.9V601M53 598.1H56.9M53 550.1H56.9M53 502.1H56.9M53 454.1H56.9M53 406.1H56.9" stroke="#262626" stroke-width="1.5" fill="none"/>
<text x="56.05" y="623.5" text-anchor="middle" class="tk">0</text>
<text x="101.86" y="623.5" text-anchor="middle" class="tk">2</text>
<text x="147.67" y="623.5" text-anchor="middle" class="tk">4</text>
<text x="193.48" y="623.5" text-anchor="middle" class="tk">6</text>
<text x="239.29" y="623.5" text-anchor="middle" class="tk">8</text>
<text x="285.1" y="623.5" text-anchor="middle" class="tk"><tspan class="one">1</tspan>0</text>
<text x="330.91" y="623.5" text-anchor="middle" class="tk"><tspan class="one">1</tspan>2</text>
<text x="47.4" y="602.85" text-anchor="end" class="tk">0</text>
<text x="47.4" y="554.85" text-anchor="end" class="tk">50</text>
<text x="47.4" y="506.85" text-anchor="end" class="tk"><tspan class="one">1</tspan>00</text>
<text x="47.4" y="458.85" text-anchor="end" class="tk"><tspan class="one">1</tspan>50</text>
<text x="47.4" y="410.85" text-anchor="end" class="tk">200</text>
<text x="192.25" y="642.2" text-anchor="middle" class="xl">Number of layers of Polyelectrolyte</text>
<g transform="translate(12.1,538.5) rotate(-90)" font-family="'Liberation Sans', sans-serif" font-weight="bold" fill="#000"><text x="-0.3" y="0" font-size="14.2">t</text><text x="26.9" y="0" font-size="14.2">t</text><text x="5.3" y="6.7" font-size="12">pre</text><text x="23.2" y="0" font-size="14.2">-</text><text x="33.6" y="6.7" font-size="12">B initial</text><text x="75.7" y="0" font-size="14.2">(nm)</text></g>
<text x="4.7" y="344" class="pl">(c)</text>
<path d="M95.9 372.1V384.1M92 372.1H99.8M92 384.1H99.8" stroke="#0000ff" stroke-width="1.45" fill="none"/><circle cx="95.9" cy="378.1" r="3.85" stroke="#0000ff" stroke-width="1.2" fill="none"/>
<path d="M95.9 387.6V399.6M92 387.6H99.8M92 399.6H99.8" stroke="#ff0000" stroke-width="1.45" fill="none"/><rect x="92.95" y="390.65" width="5.9" height="5.9" stroke="#ff0000" stroke-width="1.2" fill="none"/>
<path d="M77.4 409.4H83.5M88.4 409.4H93.1M98.3 409.4H102.7M108.1 409.4H112.8" stroke="#0000ff" stroke-width="1.35" fill="none"/>
<path d="M77.4 425H83.5M88.4 425H93.1M98.3 425H102.7M108.1 425H112.8" stroke="#ff0000" stroke-width="1.35" fill="none"/>
<text x="118.3" y="383.5" class="lg">pH=5.5</text>
<text x="118.3" y="398.9" class="lg">pH=7</text>
<text x="118.3" y="414" class="lg">Exponential fit for pH=5.5</text>
<text x="118.3" y="429.6" class="lg">Exponential fit for pH=7</text>
<text transform="translate(69.25,498.2) scale(1.2,1)" font-family="'Liberation Sans', sans-serif" font-size="12.6" fill="#000">Δ</text><text x="84.1" y="498.2" font-family="'Liberation Sans', sans-serif" font-size="12.6" font-weight="bold" fill="#000"><tspan>t</tspan><tspan dy="5.6" font-size="10.2">pre</tspan><tspan dy="-5.6">=<tspan class="one">1</tspan>5.92(e</tspan><tspan dy="-6.2" font-size="10.2">0.2245</tspan><tspan dy="6.2">-<tspan class="one">1</tspan>)</tspan></text>
<text transform="translate(192.35,591.9) scale(1.2,1)" font-family="'Liberation Sans', sans-serif" font-size="12.6" fill="#000">Δ</text><text x="207.2" y="591.9" font-family="'Liberation Sans', sans-serif" font-size="12.6" font-weight="bold" fill="#000"><tspan>t</tspan><tspan dy="5.6" font-size="10.2">pre</tspan><tspan dy="-5.6">=<tspan class="one">1</tspan>8.07(e</tspan><tspan dy="-6.2" font-size="10.2">0.<tspan class="one">1</tspan>65<tspan class="one">1</tspan></tspan><tspan dy="6.2">-<tspan class="one">1</tspan>)</tspan></text>
<line x1="143.8" y1="503.9" x2="177.4" y2="548.93" stroke="#0000ff" stroke-width="1.4"/><polygon points="182.9,556.3 171,548.71 177.4,548.93 179.01,542.73" fill="#0000ff"/>
<line x1="267.4" y1="578" x2="256.95" y2="554.6" stroke="#ff0000" stroke-width="1.4"/><polygon points="253.2,546.2 263.15,556.21 256.95,554.6 254.02,560.29" fill="#ff0000"/>
<path d="M422.25 586.49V590.07M418.35 586.49H426.15M418.35 590.07H426.15" stroke="#0000ff" stroke-width="1.45" fill="none"/><circle cx="422.25" cy="588.28" r="3.85" stroke="#0000ff" stroke-width="1.2" fill="none"/>
<path d="M445.4 584.7V589.48M441.5 584.7H449.3M441.5 589.48H449.3" stroke="#0000ff" stroke-width="1.45" fill="none"/><circle cx="445.4" cy="587.09" r="3.85" stroke="#0000ff" stroke-width="1.2" fill="none"/>
<path d="M468.55 574.66V583.26M464.65 574.66H472.45M464.65 583.26H472.45" stroke="#0000ff" stroke-width="1.45" fill="none"/><circle cx="468.55" cy="578.96" r="3.85" stroke="#0000ff" stroke-width="1.2" fill="none"/>
<path d="M491.7 566.65V576.93M487.8 566.65H495.6M487.8 576.93H495.6" stroke="#0000ff" stroke-width="1.45" fill="none"/><circle cx="491.7" cy="571.79" r="3.85" stroke="#0000ff" stroke-width="1.2" fill="none"/>
<path d="M514.85 550.16V570M510.95 550.16H518.75M510.95 570H518.75" stroke="#0000ff" stroke-width="1.45" fill="none"/><circle cx="514.85" cy="560.08" r="3.85" stroke="#0000ff" stroke-width="1.2" fill="none"/>
<path d="M538 533.43V565.7M534.1 533.43H541.9M534.1 565.7H541.9" stroke="#0000ff" stroke-width="1.45" fill="none"/><circle cx="538" cy="549.56" r="3.85" stroke="#0000ff" stroke-width="1.2" fill="none"/>
<path d="M561.15 511.2V548.49M557.25 511.2H565.05M557.25 548.49H565.05" stroke="#0000ff" stroke-width="1.45" fill="none"/><circle cx="561.15" cy="529.85" r="3.85" stroke="#0000ff" stroke-width="1.2" fill="none"/>
<path d="M584.3 489.69V538.69M580.4 489.69H588.2M580.4 538.69H588.2" stroke="#0000ff" stroke-width="1.45" fill="none"/><circle cx="584.3" cy="514.19" r="3.85" stroke="#0000ff" stroke-width="1.2" fill="none"/>
<path d="M607.45 464V503.2M603.55 464H611.35M603.55 503.2H611.35" stroke="#0000ff" stroke-width="1.45" fill="none"/><circle cx="607.45" cy="483.6" r="3.85" stroke="#0000ff" stroke-width="1.2" fill="none"/>
<path d="M630.6 436.16V483.96M626.7 436.16H634.5M626.7 483.96H634.5" stroke="#0000ff" stroke-width="1.45" fill="none"/><circle cx="630.6" cy="460.06" r="3.85" stroke="#0000ff" stroke-width="1.2" fill="none"/>
<path d="M653.75 405.92V445.36M649.85 405.92H657.65M649.85 445.36H657.65" stroke="#0000ff" stroke-width="1.45" fill="none"/><circle cx="653.75" cy="425.64" r="3.85" stroke="#0000ff" stroke-width="1.2" fill="none"/>
<path d="M422.25 587.44V593.9M418.35 587.44H426.15M418.35 593.9H426.15" stroke="#ff0000" stroke-width="1.45" fill="none"/><rect x="419.3" y="587.72" width="5.9" height="5.9" stroke="#ff0000" stroke-width="1.2" fill="none"/>
<path d="M445.4 584.82V593.9M441.5 584.82H449.3M441.5 593.9H449.3" stroke="#ff0000" stroke-width="1.45" fill="none"/><rect x="442.45" y="586.41" width="5.9" height="5.9" stroke="#ff0000" stroke-width="1.2" fill="none"/>
<path d="M468.55 580.27V591.27M464.65 580.27H472.45M464.65 591.27H472.45" stroke="#ff0000" stroke-width="1.45" fill="none"/><rect x="465.6" y="582.82" width="5.9" height="5.9" stroke="#ff0000" stroke-width="1.2" fill="none"/>
<path d="M491.7 575.49V582.66M487.8 575.49H495.6M487.8 582.66H495.6" stroke="#ff0000" stroke-width="1.45" fill="none"/><rect x="488.75" y="576.13" width="5.9" height="5.9" stroke="#ff0000" stroke-width="1.2" fill="none"/>
<path d="M514.85 564.38V579.68M510.95 564.38H518.75M510.95 579.68H518.75" stroke="#ff0000" stroke-width="1.45" fill="none"/><rect x="511.9" y="569.08" width="5.9" height="5.9" stroke="#ff0000" stroke-width="1.2" fill="none"/>
<path d="M538 558.17V578.96M534.1 558.17H541.9M534.1 578.96H541.9" stroke="#ff0000" stroke-width="1.45" fill="none"/><rect x="535.05" y="565.61" width="5.9" height="5.9" stroke="#ff0000" stroke-width="1.2" fill="none"/>
<path d="M561.15 549.08V562.71M557.25 549.08H565.05M557.25 562.71H565.05" stroke="#ff0000" stroke-width="1.45" fill="none"/><rect x="558.2" y="552.95" width="5.9" height="5.9" stroke="#ff0000" stroke-width="1.2" fill="none"/>
<path d="M584.3 541.44V558.41M580.4 541.44H588.2M580.4 558.41H588.2" stroke="#ff0000" stroke-width="1.45" fill="none"/><rect x="581.35" y="546.97" width="5.9" height="5.9" stroke="#ff0000" stroke-width="1.2" fill="none"/>
<path d="M607.45 528.53V544.07M603.55 528.53H611.35M603.55 544.07H611.35" stroke="#ff0000" stroke-width="1.45" fill="none"/><rect x="604.5" y="533.35" width="5.9" height="5.9" stroke="#ff0000" stroke-width="1.2" fill="none"/>
<path d="M630.6 516.46V537.97M626.7 516.46H634.5M626.7 537.97H634.5" stroke="#ff0000" stroke-width="1.45" fill="none"/><rect x="627.65" y="524.27" width="5.9" height="5.9" stroke="#ff0000" stroke-width="1.2" fill="none"/>
<path d="M653.75 496.27V516.34M649.85 496.27H657.65M649.85 516.34H657.65" stroke="#ff0000" stroke-width="1.45" fill="none"/><rect x="650.8" y="503.35" width="5.9" height="5.9" stroke="#ff0000" stroke-width="1.2" fill="none"/>
<polyline points="399.1,593.3 401.42,592.93 403.73,592.55 406.05,592.17 408.36,591.77 410.68,591.37 412.99,590.96 415.31,590.54 417.62,590.11 419.94,589.67 422.25,589.22 424.56,588.76 426.88,588.29 429.19,587.81 431.51,587.32 433.83,586.82 436.14,586.3 438.46,585.78 440.77,585.24 443.09,584.69 445.4,584.13 447.72,583.56 450.03,582.98 452.35,582.38 454.66,581.77 456.98,581.14 459.29,580.5 461.61,579.85 463.92,579.18 466.24,578.5 468.55,577.8 470.87,577.09 473.18,576.36 475.5,575.61 477.81,574.85 480.12,574.07 482.44,573.28 484.75,572.46 487.07,571.63 489.38,570.78 491.7,569.91 494.01,569.02 496.33,568.12 498.64,567.19 500.96,566.24 503.27,565.27 505.59,564.28 507.9,563.26 510.22,562.23 512.53,561.17 514.85,560.08 517.16,558.98 519.48,557.85 521.79,556.69 524.11,555.51 526.42,554.3 528.74,553.06 531.06,551.8 533.37,550.51 535.68,549.19 538,547.84 540.32,546.46 542.63,545.05 544.94,543.61 547.26,542.14 549.58,540.64 551.89,539.1 554.2,537.52 556.52,535.92 558.84,534.27 561.15,532.59 563.46,530.87 565.78,529.12 568.1,527.32 570.41,525.49 572.73,523.61 575.04,521.7 577.36,519.74 579.67,517.73 581.99,515.69 584.3,513.59 586.62,511.45 588.93,509.27 591.25,507.03 593.56,504.75 595.88,502.41 598.19,500.02 600.5,497.58 602.82,495.09 605.13,492.54 607.45,489.93 609.76,487.26 612.08,484.54 614.39,481.75 616.71,478.91 619.02,476 621.34,473.02 623.65,469.98 625.97,466.87 628.28,463.7 630.6,460.45 632.91,457.13 635.23,453.74 637.54,450.27 639.86,446.72 642.17,443.1 644.49,439.39 646.8,435.6 649.12,431.73 651.43,427.77 653.75,423.73 656.06,419.59 658.38,415.36 660.69,411.04 663.01,406.62 665.33,402.11 667.64,397.49 669.95,392.77 672.27,387.95 674.59,383.02 676.9,377.98" fill="none" stroke="#0000ff" stroke-width="1.35" stroke-dasharray="5.2 4.4"/>
<polyline points="399.1,593.3 401.42,593.06 403.73,592.81 406.05,592.56 408.36,592.3 410.68,592.04 412.99,591.77 415.31,591.5 417.62,591.22 419.94,590.94 422.25,590.65 424.56,590.36 426.88,590.07 429.19,589.76 431.51,589.45 433.83,589.14 436.14,588.82 438.46,588.49 440.77,588.16 443.09,587.82 445.4,587.48 447.72,587.13 450.03,586.77 452.35,586.41 454.66,586.04 456.98,585.66 459.29,585.27 461.61,584.88 463.92,584.48 466.24,584.08 468.55,583.66 470.87,583.24 473.18,582.81 475.5,582.38 477.81,581.93 480.12,581.48 482.44,581.02 484.75,580.55 487.07,580.07 489.38,579.58 491.7,579.09 494.01,578.58 496.33,578.07 498.64,577.54 500.96,577.01 503.27,576.46 505.59,575.91 507.9,575.34 510.22,574.77 512.53,574.18 514.85,573.59 517.16,572.98 519.48,572.36 521.79,571.73 524.11,571.09 526.42,570.44 528.74,569.77 531.06,569.09 533.37,568.4 535.68,567.7 538,566.99 540.32,566.26 542.63,565.51 544.94,564.76 547.26,563.99 549.58,563.2 551.89,562.41 554.2,561.59 556.52,560.76 558.84,559.92 561.15,559.06 563.46,558.18 565.78,557.29 568.1,556.39 570.41,555.46 572.73,554.52 575.04,553.56 577.36,552.58 579.67,551.59 581.99,550.57 584.3,549.54 586.62,548.49 588.93,547.42 591.25,546.33 593.56,545.22 595.88,544.09 598.19,542.94 600.5,541.77 602.82,540.57 605.13,539.35 607.45,538.12 609.76,536.85 612.08,535.57 614.39,534.26 616.71,532.93 619.02,531.57 621.34,530.19 623.65,528.78 625.97,527.34 628.28,525.88 630.6,524.4 632.91,522.88 635.23,521.34 637.54,519.77 639.86,518.16 642.17,516.53 644.49,514.87 646.8,513.18 649.12,511.46 651.43,509.71 653.75,507.92 656.06,506.1 658.38,504.25 660.69,502.36 663.01,500.44 665.33,498.48 667.64,496.49 669.95,494.46 672.27,492.39 674.59,490.29 676.9,488.14" fill="none" stroke="#ff0000" stroke-width="1.35" stroke-dasharray="5.2 4.4"/>
<rect x="399.1" y="362" width="277.8" height="241.4" fill="none" stroke="#262626" stroke-width="1.95"/>
<path d="M399.1 603.4V599.5M445.4 603.4V599.5M491.7 603.4V599.5M538 603.4V599.5M584.3 603.4V599.5M630.6 603.4V599.5M676.9 603.4V599.5M399.1 593.3H403M399.1 557.45H403M399.1 521.6H403M399.1 485.75H403M399.1 449.9H403M399.1 414.05H403M399.1 378.2H403" stroke="#262626" stroke-width="1.5" fill="none"/>
<text x="399.1" y="622" text-anchor="middle" class="tk">0</text>
<text x="445.4" y="622" text-anchor="middle" class="tk">2</text>
<text x="491.7" y="622" text-anchor="middle" class="tk">4</text>
<text x="538" y="622" text-anchor="middle" class="tk">6</text>
<text x="584.3" y="622" text-anchor="middle" class="tk">8</text>
<text x="630.6" y="622" text-anchor="middle" class="tk"><tspan class="one">1</tspan>0</text>
<text x="676.9" y="622" text-anchor="middle" class="tk"><tspan class="one">1</tspan>2</text>
<text x="393.5" y="598.05" text-anchor="end" class="tk">0</text>
<text x="393.5" y="562.2" text-anchor="end" class="tk">30</text>
<text x="393.5" y="526.35" text-anchor="end" class="tk">60</text>
<text x="393.5" y="490.5" text-anchor="end" class="tk">90</text>
<text x="393.5" y="454.65" text-anchor="end" class="tk"><tspan class="one">1</tspan>20</text>
<text x="393.5" y="418.8" text-anchor="end" class="tk"><tspan class="one">1</tspan>50</text>
<text x="393.5" y="382.95" text-anchor="end" class="tk"><tspan class="one">1</tspan>80</text>
<text x="538" y="640.7" text-anchor="middle" class="xl">Number of layers of Polyelectrolyte</text>
<g transform="translate(358.1,540.3) rotate(-90)" font-family="'Liberation Sans', sans-serif" font-weight="bold" fill="#000"><text x="-0.3" y="0" font-size="14.2">t</text><text x="33.4" y="0" font-size="14.2">t</text><text x="5.4" y="6.5" font-size="12">post</text><text x="29.6" y="0" font-size="14.2">-</text><text x="39.8" y="6.5" font-size="12">B initial</text><text x="82.5" y="0" font-size="14.2">(nm)</text></g>
<text x="343.9" y="344" class="pl">(d)</text>
<path d="M441.5 372.4V384.4M437.6 372.4H445.4M437.6 384.4H445.4" stroke="#0000ff" stroke-width="1.45" fill="none"/><circle cx="441.5" cy="378.4" r="3.85" stroke="#0000ff" stroke-width="1.2" fill="none"/>
<path d="M441.5 387.8V399.8M437.6 387.8H445.4M437.6 399.8H445.4" stroke="#ff0000" stroke-width="1.45" fill="none"/><rect x="438.55" y="390.85" width="5.9" height="5.9" stroke="#ff0000" stroke-width="1.2" fill="none"/>
<path d="M422.6 409.5H427.5M432.4 409.5H436.9M442.3 409.5H446.8M452.1 409.5H456.7" stroke="#0000ff" stroke-width="1.35" fill="none"/>
<path d="M422.6 425.2H427.5M432.4 425.2H436.9M442.3 425.2H446.8M452.1 425.2H456.7" stroke="#ff0000" stroke-width="1.35" fill="none"/>
<text x="463.5" y="383.6" class="lg">pH=5.5</text>
<text x="463.5" y="399.1" class="lg">pH=7</text>
<text x="463.5" y="414" class="lg">Exponential fit for pH=5.5</text>
<text x="463.5" y="429.4" class="lg">Exponential fit for pH=7</text>
<text transform="translate(411.45,490.6) scale(1.2,1)" font-family="'Liberation Sans', sans-serif" font-size="12.6" fill="#000">Δ</text><text x="426.3" y="490.6" font-family="'Liberation Sans', sans-serif" font-size="12.6" font-weight="bold" fill="#000"><tspan>t</tspan><tspan dy="5.6" font-size="10.2">post</tspan><tspan dy="-5.6">=<tspan class="one">1</tspan>3.9(e</tspan><tspan dy="-6.2" font-size="10.2">0.2<tspan class="one">1</tspan>97</tspan><tspan dy="6.2">-<tspan class="one">1</tspan>)</tspan></text>
<text transform="translate(533.15,591.1) scale(1.2,1)" font-family="'Liberation Sans', sans-serif" font-size="12.6" fill="#000">Δ</text><text x="548" y="591.1" font-family="'Liberation Sans', sans-serif" font-size="12.6" font-weight="bold" fill="#000"><tspan>t</tspan><tspan dy="5.6" font-size="10.2">post</tspan><tspan dy="-5.6">=<tspan class="one">1</tspan><tspan class="one">1</tspan>.03(e</tspan><tspan dy="-6.2" font-size="10.2">0.<tspan class="one">1</tspan>829</tspan><tspan dy="6.2">-<tspan class="one">1</tspan>)</tspan></text>
<line x1="484.7" y1="500.2" x2="521.73" y2="539.97" stroke="#0000ff" stroke-width="1.4"/><polygon points="528,546.7 515.35,540.45 521.73,539.97 522.66,533.63" fill="#0000ff"/>
<line x1="608.4" y1="577.7" x2="601.69" y2="555.7" stroke="#ff0000" stroke-width="1.4"/><polygon points="599,546.9 607.64,558.07 601.69,555.7 598.07,560.98" fill="#ff0000"/>
<g><path transform="translate(279.46,292.30) scale(0.00649,-0.00649)" d="M478 0L478 1170L140 959L140 1180L493 1409L759 1409L759 0Z" fill="rgb(38, 38, 38)"/><path transform="translate(325.79,292.30) scale(0.00649,-0.00649)" d="M478 0L478 1170L140 959L140 1180L493 1409L759 1409L759 0Z" fill="rgb(38, 38, 38)"/><path transform="translate(179.95,147.00) scale(0.00498,-0.00498)" d="M478 0L478 1170L140 959L140 1180L493 1409L759 1409L759 0Z" fill="rgb(0, 0, 0)"/><path transform="translate(206.82,153.20) scale(0.00615,-0.00615)" d="M478 0L478 1170L140 959L140 1180L493 1409L759 1409L759 0Z" fill="rgb(0, 0, 0)"/><path transform="translate(235.63,261.90) scale(0.00615,-0.00615)" d="M478 0L478 1170L140 959L140 1180L493 1409L759 1409L759 0Z" fill="rgb(0, 0, 0)"/><path transform="translate(283.36,255.70) scale(0.00498,-0.00498)" d="M478 0L478 1170L140 959L140 1180L493 1409L759 1409L759 0Z" fill="rgb(0, 0, 0)"/><path transform="translate(294.71,255.70) scale(0.00498,-0.00498)" d="M478 0L478 1170L140 959L140 1180L493 1409L759 1409L759 0Z" fill="rgb(0, 0, 0)"/><path transform="translate(310.25,261.90) scale(0.00615,-0.00615)" d="M478 0L478 1170L140 959L140 1180L493 1409L759 1409L759 0Z" fill="rgb(0, 0, 0)"/><path transform="translate(619.49,292.80) scale(0.00649,-0.00649)" d="M478 0L478 1170L140 959L140 1180L493 1409L759 1409L759 0Z" fill="rgb(38, 38, 38)"/><path transform="translate(665.69,292.80) scale(0.00649,-0.00649)" d="M478 0L478 1170L140 959L140 1180L493 1409L759 1409L759 0Z" fill="rgb(38, 38, 38)"/><path transform="translate(382.09,240.25) scale(0.00649,-0.00649)" d="M478 0L478 1170L140 959L140 1180L493 1409L759 1409L759 0Z" fill="rgb(38, 38, 38)"/><path transform="translate(498.60,139.20) scale(0.00615,-0.00615)" d="M478 0L478 1170L140 959L140 1180L493 1409L759 1409L759 0Z" fill="rgb(0, 0, 0)"/><path transform="translate(532.32,133.00) scale(0.00498,-0.00498)" d="M478 0L478 1170L140 959L140 1180L493 1409L759 1409L759 0Z" fill="rgb(0, 0, 0)"/><path transform="translate(559.19,139.20) scale(0.00615,-0.00615)" d="M478 0L478 1170L140 959L140 1180L493 1409L759 1409L759 0Z" fill="rgb(0, 0, 0)"/><path transform="translate(601.70,261.80) scale(0.00615,-0.00615)" d="M478 0L478 1170L140 959L140 1180L493 1409L759 1409L759 0Z" fill="rgb(0, 0, 0)"/><path transform="translate(628.42,255.60) scale(0.00498,-0.00498)" d="M478 0L478 1170L140 959L140 1180L493 1409L759 1409L759 0Z" fill="rgb(0, 0, 0)"/><path transform="translate(655.29,261.80) scale(0.00615,-0.00615)" d="M478 0L478 1170L140 959L140 1180L493 1409L759 1409L759 0Z" fill="rgb(0, 0, 0)"/><path transform="translate(277.69,623.50) scale(0.00649,-0.00649)" d="M478 0L478 1170L140 959L140 1180L493 1409L759 1409L759 0Z" fill="rgb(38, 38, 38)"/><path transform="translate(323.50,623.50) scale(0.00649,-0.00649)" d="M478 0L478 1170L140 959L140 1180L493 1409L759 1409L759 0Z" fill="rgb(38, 38, 38)"/><path transform="translate(25.20,506.85) scale(0.00649,-0.00649)" d="M478 0L478 1170L140 959L140 1180L493 1409L759 1409L759 0Z" fill="rgb(38, 38, 38)"/><path transform="translate(25.20,458.85) scale(0.00649,-0.00649)" d="M478 0L478 1170L140 959L140 1180L493 1409L759 1409L759 0Z" fill="rgb(38, 38, 38)"/><path transform="translate(111.52,498.20) scale(0.00615,-0.00615)" d="M478 0L478 1170L140 959L140 1180L493 1409L759 1409L759 0Z" fill="rgb(0, 0, 0)"/><path transform="translate(189.63,498.20) scale(0.00615,-0.00615)" d="M478 0L478 1170L140 959L140 1180L493 1409L759 1409L759 0Z" fill="rgb(0, 0, 0)"/><path transform="translate(234.62,591.90) scale(0.00615,-0.00615)" d="M478 0L478 1170L140 959L140 1180L493 1409L759 1409L759 0Z" fill="rgb(0, 0, 0)"/><path transform="translate(285.86,585.70) scale(0.00498,-0.00498)" d="M478 0L478 1170L140 959L140 1180L493 1409L759 1409L759 0Z" fill="rgb(0, 0, 0)"/><path transform="translate(302.87,585.70) scale(0.00498,-0.00498)" d="M478 0L478 1170L140 959L140 1180L493 1409L759 1409L759 0Z" fill="rgb(0, 0, 0)"/><path transform="translate(312.75,591.90) scale(0.00615,-0.00615)" d="M478 0L478 1170L140 959L140 1180L493 1409L759 1409L759 0Z" fill="rgb(0, 0, 0)"/><path transform="translate(623.19,622.00) scale(0.00649,-0.00649)" d="M478 0L478 1170L140 959L140 1180L493 1409L759 1409L759 0Z" fill="rgb(38, 38, 38)"/><path transform="translate(669.49,622.00) scale(0.00649,-0.00649)" d="M478 0L478 1170L140 959L140 1180L493 1409L759 1409L759 0Z" fill="rgb(38, 38, 38)"/><path transform="translate(371.30,454.65) scale(0.00649,-0.00649)" d="M478 0L478 1170L140 959L140 1180L493 1409L759 1409L759 0Z" fill="rgb(38, 38, 38)"/><path transform="translate(371.30,418.80) scale(0.00649,-0.00649)" d="M478 0L478 1170L140 959L140 1180L493 1409L759 1409L759 0Z" fill="rgb(38, 38, 38)"/><path transform="translate(371.30,382.95) scale(0.00649,-0.00649)" d="M478 0L478 1170L140 959L140 1180L493 1409L759 1409L759 0Z" fill="rgb(38, 38, 38)"/><path transform="translate(459.38,490.60) scale(0.00615,-0.00615)" d="M478 0L478 1170L140 959L140 1180L493 1409L759 1409L759 0Z" fill="rgb(0, 0, 0)"/><path transform="translate(509.28,484.40) scale(0.00498,-0.00498)" d="M478 0L478 1170L140 959L140 1180L493 1409L759 1409L759 0Z" fill="rgb(0, 0, 0)"/><path transform="translate(530.50,490.60) scale(0.00615,-0.00615)" d="M478 0L478 1170L140 959L140 1180L493 1409L759 1409L759 0Z" fill="rgb(0, 0, 0)"/><path transform="translate(581.08,591.10) scale(0.00615,-0.00615)" d="M478 0L478 1170L140 959L140 1180L493 1409L759 1409L759 0Z" fill="rgb(0, 0, 0)"/><path transform="translate(587.39,591.10) scale(0.00615,-0.00615)" d="M478 0L478 1170L140 959L140 1180L493 1409L759 1409L759 0Z" fill="rgb(0, 0, 0)"/><path transform="translate(631.62,584.90) scale(0.00498,-0.00498)" d="M478 0L478 1170L140 959L140 1180L493 1409L759 1409L759 0Z" fill="rgb(0, 0, 0)"/><path transform="translate(658.50,591.10) scale(0.00615,-0.00615)" d="M478 0L478 1170L140 959L140 1180L493 1409L759 1409L759 0Z" fill="rgb(0, 0, 0)"/></g>
</svg>
</body></html>
